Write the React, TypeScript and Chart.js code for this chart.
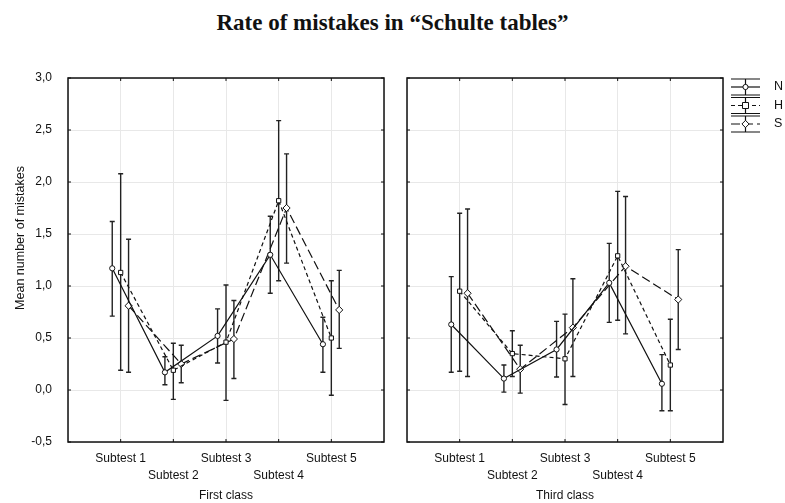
import React, { useEffect, useRef } from "react";
import { Chart, registerables } from "chart.js";

Chart.register(...registerables);

const categories = ["Subtest 1", "Subtest 2", "Subtest 3", "Subtest 4", "Subtest 5"];
const seriesNames = ["N", "H", "S"];
const yTicks = [-0.5, 0, 0.5, 1, 1.5, 2, 2.5, 3];

// First class
const nMean1 = [1.17, 0.17, 0.52, 1.3, 0.44];
const nLow1 = [0.71, 0.05, 0.26, 0.93, 0.17];
const nHigh1 = [1.62, 0.32, 0.78, 1.67, 0.7];
const hMean1 = [1.13, 0.19, 0.46, 1.82, 0.5];
const hLow1 = [0.19, -0.09, -0.1, 1.05, -0.05];
const hHigh1 = [2.08, 0.45, 1.01, 2.59, 1.05];
const sMean1 = [0.81, 0.25, 0.49, 1.75, 0.77];
const sLow1 = [0.17, 0.07, 0.11, 1.22, 0.4];
const sHigh1 = [1.45, 0.43, 0.86, 2.27, 1.15];

// Third class
const nMean3 = [0.63, 0.11, 0.39, 1.03, 0.06];
const nLow3 = [0.17, -0.02, 0.125, 0.65, -0.2];
const nHigh3 = [1.09, 0.24, 0.66, 1.41, 0.34];
const hMean3 = [0.95, 0.35, 0.3, 1.29, 0.24];
const hLow3 = [0.18, 0.13, -0.14, 0.67, -0.2];
const hHigh3 = [1.7, 0.57, 0.73, 1.91, 0.68];
const sMean3 = [0.93, 0.2, 0.6, 1.19, 0.87];
const sLow3 = [0.13, -0.03, 0.13, 0.54, 0.39];
const sHigh3 = [1.74, 0.43, 1.07, 1.86, 1.35];

const groupOffsets = [-0.16, 0, 0.15];
const dashes = [[], [4, 3], [9, 4]];
const pointStyles = ["circle", "rect", "rectRot"];
const pointRadii = [2.6, 3, 3.6];

const FONT = "'Liberation Sans', Arial, sans-serif";

function makeDatasets(means: number[][], lows: number[][], highs: number[][]) {
  return means.map((m, s) => ({
    label: seriesNames[s],
    data: m.map((v, i) => ({
      x: i + 1 + groupOffsets[s],
      y: v,
      yMin: lows[s][i],
      yMax: highs[s][i],
    })),
    borderColor: "#111",
    borderWidth: 1.2,
    borderDash: dashes[s],
    pointStyle: pointStyles[s],
    pointRadius: pointRadii[s],
    pointBorderWidth: 1,
    pointBackgroundColor: "#fff",
    pointBorderColor: "#111",
    tension: 0,
    fill: false,
  }));
}

const errorBarPlugin = {
  id: "errorBars",
  beforeDatasetsDraw(chart: any) {
    const ctx = chart.ctx;
    const xs = chart.scales.x;
    const ys = chart.scales.y;
    ctx.save();
    ctx.strokeStyle = "#222";
    ctx.lineWidth = 1.4;
    ctx.setLineDash([]);
    chart.data.datasets.forEach((ds: any) => {
      ds.data.forEach((p: any) => {
        const x = xs.getPixelForValue(p.x);
        const y1 = ys.getPixelForValue(p.yMin);
        const y2 = ys.getPixelForValue(p.yMax);
        ctx.beginPath();
        ctx.moveTo(x, y1);
        ctx.lineTo(x, y2);
        ctx.moveTo(x - 2.5, y1);
        ctx.lineTo(x + 2.5, y1);
        ctx.moveTo(x - 2.5, y2);
        ctx.lineTo(x + 2.5, y2);
        ctx.stroke();
      });
    });
    ctx.restore();
  },
};

const framePlugin = {
  id: "frame",
  afterDraw(chart: any) {
    const { ctx, chartArea: a } = chart;
    const xs = chart.scales.x;
    const ys = chart.scales.y;
    ctx.save();
    ctx.setLineDash([]);
    ctx.strokeStyle = "#111";
    ctx.lineWidth = 1;
    ctx.beginPath();
    yTicks.forEach((v) => {
      const y = ys.getPixelForValue(v);
      ctx.moveTo(a.left, y);
      ctx.lineTo(a.left + 3, y);
      ctx.moveTo(a.right, y);
      ctx.lineTo(a.right - 3, y);
    });
    for (let i = 1; i <= categories.length; i++) {
      const x = xs.getPixelForValue(i);
      ctx.moveTo(x, a.top);
      ctx.lineTo(x, a.top + 3);
      ctx.moveTo(x, a.bottom);
      ctx.lineTo(x, a.bottom - 3);
    }
    ctx.stroke();
    ctx.lineWidth = 1.5;
    ctx.strokeRect(a.left, a.top, a.right - a.left, a.bottom - a.top);
    ctx.restore();
  },
};

const yTitlePlugin = {
  id: "yTitle",
  afterDraw(chart: any) {
    const ctx = chart.ctx;
    ctx.save();
    ctx.translate(21, 238);
    ctx.rotate(-Math.PI / 2);
    ctx.fillStyle = "#111";
    ctx.font = `12.5px ${FONT}`;
    ctx.textAlign = "center";
    ctx.textBaseline = "middle";
    ctx.fillText("Mean number of mistakes", 0, 0);
    ctx.restore();
  },
};

const legendPlugin = {
  id: "customLegend",
  afterDraw(chart: any) {
    const ctx = chart.ctx;
    const x0 = 731;
    const x1 = 760;
    const xm = (x0 + x1) / 2;
    ctx.save();
    ctx.strokeStyle = "#111";
    ctx.fillStyle = "#111";
    seriesNames.forEach((name, s) => {
      const c = 87 + s * 18.5;
      ctx.lineWidth = 1.2;
      ctx.setLineDash([]);
      ctx.beginPath();
      ctx.moveTo(x0, c - 8);
      ctx.lineTo(x1, c - 8);
      ctx.moveTo(x0, c + 8);
      ctx.lineTo(x1, c + 8);
      ctx.moveTo(xm, c - 8);
      ctx.lineTo(xm, c + 8);
      ctx.stroke();
      ctx.setLineDash(dashes[s]);
      ctx.beginPath();
      ctx.moveTo(x0, c);
      ctx.lineTo(x1, c);
      ctx.stroke();
      ctx.setLineDash([]);
      ctx.fillStyle = "#fff";
      ctx.lineWidth = 1;
      ctx.beginPath();
      const r = pointRadii[s];
      if (s === 0) {
        ctx.arc(xm, c, r, 0, Math.PI * 2);
      } else if (s === 1) {
        ctx.rect(xm - r, c - r, 2 * r, 2 * r);
      } else {
        ctx.moveTo(xm, c - r);
        ctx.lineTo(xm + r, c);
        ctx.lineTo(xm, c + r);
        ctx.lineTo(xm - r, c);
        ctx.closePath();
      }
      ctx.fill();
      ctx.stroke();
      ctx.fillStyle = "#111";
      ctx.font = `12.5px ${FONT}`;
      ctx.textAlign = "left";
      ctx.textBaseline = "middle";
      ctx.fillText(name, 774, c);
    });
    ctx.restore();
  },
};

function buildConfig(datasets: any[], xTitle: string, left: boolean): any {
  return {
    type: "line",
    data: { datasets },
    options: {
      animation: false,
      responsive: false,
      devicePixelRatio: 1,
      layout: {
        padding: left
          ? { left: 0, top: 78, right: 401, bottom: 0 }
          : { left: 407, top: 78, right: 62, bottom: 0 },
      },
      plugins: {
        legend: { display: false },
        tooltip: { enabled: false },
        title: { display: false },
      },
      scales: {
        x: {
          type: "linear",
          min: 0,
          max: 6,
          border: { display: false },
          grid: { color: "#e8e8e8", lineWidth: 1, drawTicks: false },
          ticks: {
            stepSize: 1,
            autoSkip: false,
            maxRotation: 0,
            padding: 9,
            color: "#111",
            font: { family: FONT, size: 12, lineHeight: 1.35 },
            callback: (v: number) => {
              const i = Math.round(v) - 1;
              if (i < 0 || i >= categories.length) return "";
              return i % 2 === 0 ? [categories[i], ""] : ["", categories[i]];
            },
          },
          title: {
            display: true,
            text: xTitle,
            color: "#111",
            font: { family: FONT, size: 12 },
            padding: { top: 0, bottom: 0 },
          },
          afterFit: (scale: any) => {
            scale.height = 61;
            scale.paddingLeft = 0;
            scale.paddingRight = 0;
          },
        },
        y: {
          type: "linear",
          min: -0.5,
          max: 3,
          border: { display: false },
          grid: { color: "#e8e8e8", lineWidth: 1, drawTicks: false },
          ticks: {
            display: left,
            stepSize: 0.5,
            padding: 16,
            color: "#111",
            font: { family: FONT, size: 12 },
            callback: (v: number) => v.toFixed(1).replace(".", ","),
          },
          title: { display: false },
          afterFit: (scale: any) => {
            scale.width = left ? 68 : 0;
            scale.paddingTop = 0;
            scale.paddingBottom = 0;
          },
        },
      },
    },
    plugins: left
      ? [errorBarPlugin, framePlugin, yTitlePlugin]
      : [errorBarPlugin, framePlugin, legendPlugin],
  };
}

export default function App() {
  const leftRef = useRef<HTMLCanvasElement>(null);
  const rightRef = useRef<HTMLCanvasElement>(null);

  useEffect(() => {
    const c1 = new Chart(
      leftRef.current as HTMLCanvasElement,
      buildConfig(
        makeDatasets([nMean1, hMean1, sMean1], [nLow1, hLow1, sLow1], [nHigh1, hHigh1, sHigh1]),
        "First class",
        true
      )
    );
    const c2 = new Chart(
      rightRef.current as HTMLCanvasElement,
      buildConfig(
        makeDatasets([nMean3, hMean3, sMean3], [nLow3, hLow3, sLow3], [nHigh3, hHigh3, sHigh3]),
        "Third class",
        false
      )
    );
    return () => {
      c1.destroy();
      c2.destroy();
    };
  }, []);

  return (
    <div
      style={{
        position: "fixed",
        left: 0,
        top: 0,
        width: 785,
        height: 503,
        background: "#fff",
        overflow: "hidden",
      }}
    >
      <div
        style={{
          position: "absolute",
          left: 0,
          top: 9,
          width: 785,
          textAlign: "center",
          fontFamily: "'Liberation Serif', 'Times New Roman', serif",
          fontWeight: "bold",
          fontSize: 23,
          lineHeight: "28px",
          color: "#111",
        }}
      >
        Rate of mistakes in “Schulte tables”
      </div>
      <canvas
        ref={leftRef}
        width={785}
        height={503}
        style={{ position: "absolute", left: 0, top: 0 }}
      />
      <canvas
        ref={rightRef}
        width={785}
        height={503}
        style={{ position: "absolute", left: 0, top: 0 }}
      />
    </div>
  );
}
